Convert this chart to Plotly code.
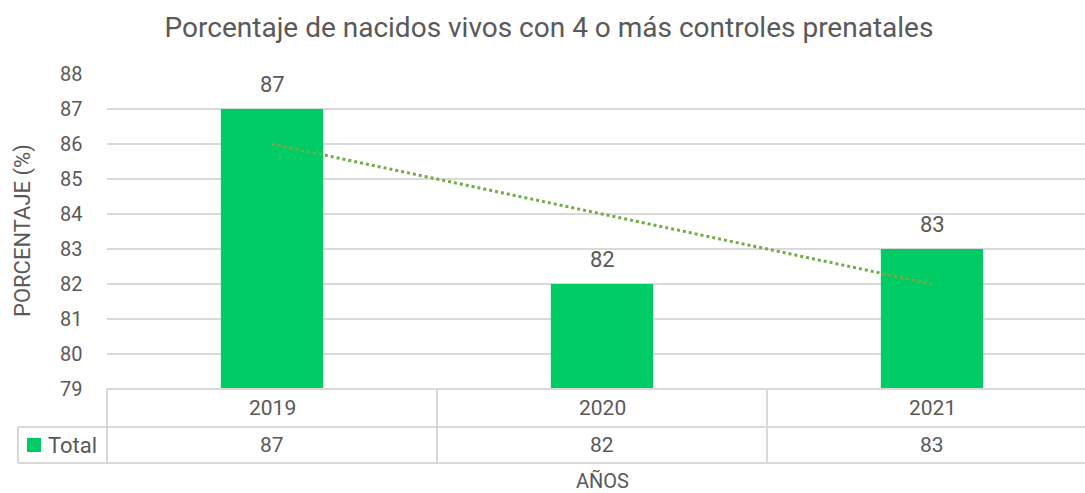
import numpy as np
import plotly.graph_objects as go

years = ["2019", "2020", "2021"]
values = [87, 82, 83]
series_name = "Total"
title = "Porcentaje de nacidos vivos con 4 o más controles prenatales"
y_title = "PORCENTAJE (%)"
x_title = "AÑOS"
y_ticks = list(range(79, 89))

BAR = "#00CC66"
TREND = "#70AD47"
GRID = "#D9D9D9"
TXT = "#595959"
FONT = "Roboto"

W, H = 1085, 493
L, R, T, B = 107, 0, 74, 104
XMIN, XMAX = -0.5, -0.5 + (W - L - R) / 330.0

xs = list(range(len(years)))

def px_x(px):
    return (px - L) / (W - L - R)

def px_y(py):
    return (H - B - py) / (H - T - B)

def data_x(d):
    return (d - XMIN) / (XMAX - XMIN)

fig = go.Figure()
fig.add_trace(go.Bar(x=xs, y=values, width=0.31, marker_color=BAR,
                     marker_line_width=0, name=series_name, showlegend=False,
                     hoverinfo="skip"))

# linear trendline computed from data
coef = np.polyfit(xs, values, 1)
trend = np.polyval(coef, xs)
fig.add_trace(go.Scatter(x=xs, y=trend, mode="lines",
                         line=dict(color=TREND, width=3, dash="dot"),
                         showlegend=False, hoverinfo="skip"))

annotations = []
for t in y_ticks:
    annotations.append(dict(x=px_x(84), y=t, xref="paper", yref="y", text=str(t),
                            xanchor="right", yanchor="middle", showarrow=False,
                            font=dict(family=FONT, size=20, color=TXT)))
for i, v in enumerate(values):
    annotations.append(dict(x=i, y=v, xref="x", yref="y", text=str(v),
                            showarrow=False, yshift=25, yanchor="middle",
                            font=dict(family=FONT, size=22, color=TXT)))
    annotations.append(dict(x=i, y=px_y(408), xref="x", yref="paper", text=years[i],
                            xanchor="center", yanchor="middle",
                            showarrow=False, font=dict(family=FONT, size=21, color=TXT)))
    annotations.append(dict(x=i, y=px_y(445), xref="x", yref="paper", text=str(v),
                            xanchor="center", yanchor="middle",
                            showarrow=False, font=dict(family=FONT, size=21, color=TXT)))

annotations.append(dict(x=px_x(46), y=px_y(445), xref="paper", yref="paper",
                        text=series_name, xanchor="left", yanchor="middle", showarrow=False,
                        font=dict(family=FONT, size=22, color=TXT)))
annotations.append(dict(x=data_x(1), y=px_y(481), xref="paper", yref="paper",
                        text=x_title, xanchor="center", yanchor="middle", showarrow=False,
                        font=dict(family=FONT, size=20, color=TXT)))
annotations.append(dict(x=px_x(23), y=px_y(231), xref="paper", yref="paper",
                        text=y_title, textangle=-90, xanchor="center", yanchor="middle",
                        showarrow=False,
                        font=dict(family=FONT, size=22, color=TXT)))

line = dict(color=GRID, width=2)
shapes = []
x_right = 1.0
x_left_tbl = px_x(18)
y_top = 0.0
y_mid = px_y(427)
y_bot = px_y(463)
# horizontal lines
shapes.append(dict(type="line", xref="paper", yref="paper", x0=0, x1=x_right, y0=y_top, y1=y_top, line=line))
shapes.append(dict(type="line", xref="paper", yref="paper", x0=x_left_tbl, x1=x_right, y0=y_mid, y1=y_mid, line=line))
shapes.append(dict(type="line", xref="paper", yref="paper", x0=x_left_tbl, x1=x_right, y0=y_bot, y1=y_bot, line=line))
# vertical lines
shapes.append(dict(type="line", xref="paper", yref="paper", x0=x_left_tbl, x1=x_left_tbl, y0=y_mid, y1=y_bot, line=line))
for d in [XMIN] + [i + 0.5 for i in xs[:-1]]:
    xp = data_x(d)
    shapes.append(dict(type="line", xref="paper", yref="paper", x0=xp, x1=xp, y0=y_top, y1=y_bot, line=line))
# legend key
shapes.append(dict(type="rect", xref="paper", yref="paper", x0=px_x(27), x1=px_x(41),
                   y0=px_y(452), y1=px_y(438), fillcolor=BAR, line=dict(width=0)))

fig.update_layout(
    width=W, height=H, autosize=False,
    margin=dict(l=L, r=R, t=T, b=B, pad=0),
    paper_bgcolor="white", plot_bgcolor="white",
    title=dict(text=title, x=549 / W, xanchor="center", y=1 - 27 / H, yanchor="middle",
               font=dict(family=FONT, size=28, color=TXT)),
    xaxis=dict(range=[XMIN, XMAX], showticklabels=False, showgrid=False,
               zeroline=False, showline=False, ticks=""),
    yaxis=dict(range=[79, 88], tickvals=y_ticks, showgrid=True, gridcolor=GRID,
               gridwidth=2, zeroline=False, showline=False, ticks="",
               showticklabels=False),
    shapes=shapes, annotations=annotations, bargap=0.69,
)

fig.write_html("out.html", config={"displayModeBar": False},
               post_script="document.body.style.margin='0';")
